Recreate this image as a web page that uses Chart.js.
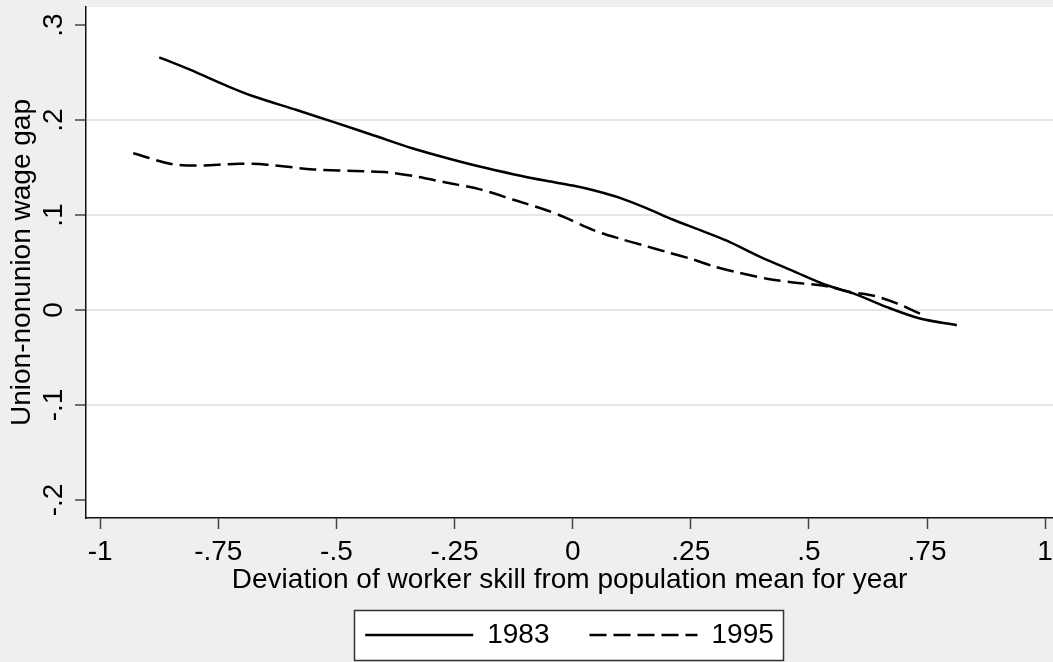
<!DOCTYPE html>
<html>
<head>
<meta charset="utf-8">
<script src="https://cdn.jsdelivr.net/npm/chart.js@4.4.0/dist/chart.umd.min.js"></script>
<style>
  html, body { margin: 0; padding: 0; background: #efefef; }
  #wrap { width: 1053px; height: 662px; position: relative; }
</style>
</head>
<body>
<div id="wrap"><canvas id="c"></canvas></div>
<script>
const seriesNames = ['1983', '1995'];

const x1983 = [-0.875, -0.81, -0.732, -0.676, -0.584, -0.507, -0.422, -0.338, -0.267, -0.197, -0.126, -0.056, 0.0, 0.044, 0.1, 0.157, 0.213, 0.27, 0.326, 0.397, 0.467, 0.538, 0.594, 0.665, 0.735, 0.813];
const y1983 = [0.266, 0.253, 0.236, 0.225, 0.2105, 0.198, 0.184, 0.170, 0.160, 0.151, 0.143, 0.136, 0.131, 0.126, 0.118, 0.107, 0.095, 0.084, 0.073, 0.056, 0.041, 0.026, 0.0175, 0.003, -0.009, -0.016];

const x1995 = [-0.93, -0.852, -0.803, -0.704, -0.647, -0.549, -0.443, -0.393, -0.337, -0.266, -0.196, -0.125, -0.055, -0.019, 0.044, 0.1, 0.15, 0.199, 0.256, 0.298, 0.354, 0.411, 0.467, 0.538, 0.587, 0.637, 0.686, 0.74];
const y1995 = [0.165, 0.154, 0.152, 0.154, 0.153, 0.148, 0.146, 0.145, 0.141, 0.134, 0.127, 0.116, 0.105, 0.098, 0.084, 0.075, 0.068, 0.061, 0.053, 0.046, 0.039, 0.033, 0.029, 0.025, 0.019, 0.015, 0.007, -0.005];

const xTickValues = [-1, -0.75, -0.5, -0.25, 0, 0.25, 0.5, 0.75, 1];
const xTickLabels = ['-1', '-.75', '-.5', '-.25', '0', '.25', '.5', '.75', '1'];
const yTickValues = [-0.2, -0.1, 0, 0.1, 0.2, 0.3];
const yTickLabels = ['-.2', '-.1', '0', '.1', '.2', '.3'];
const yNoGrid = [-0.2, 0.3];

const xTitle = 'Deviation of worker skill from population mean for year';
const yTitle = 'Union-nonunion wage gap';

const FONT = '"Liberation Sans", Arial, Helvetica, sans-serif';
const FS = 28;
const LEG_PAD = 40;

function pairs(xs, ys) { return xs.map((x, i) => ({ x: x, y: ys[i] })); }

function legendRect(chart) {
  const lg = chart.legend;
  if (!lg || !lg.legendHitBoxes || !lg.legendHitBoxes.length) return null;
  const hb = lg.legendHitBoxes;
  const l = hb[0].left - 11;
  const r = hb[hb.length - 1].left + hb[hb.length - 1].width + 9;
  const cy = lg.top + LEG_PAD + FS / 2;
  return { l: Math.round(l), t: Math.round(cy - 25), w: Math.round(r - l), h: 50 };
}

const bgPlugin = {
  id: 'bg',
  beforeDraw(chart) {
    const ctx = chart.ctx, a = chart.chartArea;
    ctx.save();
    ctx.fillStyle = '#efefef';
    ctx.fillRect(0, 0, chart.width, chart.height);
    ctx.fillStyle = '#ffffff';
    ctx.fillRect(a.left, a.top, a.right - a.left, a.bottom - a.top);
    const r = legendRect(chart);
    if (r) ctx.fillRect(r.l, r.t, r.w, r.h);
    ctx.restore();
  },
  afterDraw(chart) {
    const ctx = chart.ctx;
    const r = legendRect(chart);
    if (r) {
      ctx.save();
      ctx.strokeStyle = '#333333';
      ctx.lineWidth = 1.5;
      ctx.setLineDash([]);
      ctx.strokeRect(r.l + 0.5, r.t + 0.5, r.w, r.h);
      ctx.restore();
    }
  }
};

new Chart(document.getElementById('c'), {
  type: 'line',
  data: {
    datasets: [
      {
        label: seriesNames[0],
        data: pairs(x1983, y1983),
        borderColor: '#000000',
        backgroundColor: '#000000',
        borderWidth: 2.5,
        pointRadius: 0,
        tension: 0.3,
        fill: false
      },
      {
        label: seriesNames[1],
        data: pairs(x1995, y1995),
        borderColor: '#000000',
        backgroundColor: '#000000',
        borderWidth: 2.5,
        borderDash: [17, 7],
        pointRadius: 0,
        tension: 0.3,
        fill: false
      }
    ]
  },
  options: {
    responsive: true,
    maintainAspectRatio: false,
    animation: false,
    devicePixelRatio: 1,
    layout: { padding: { top: 7, right: 0, bottom: 3, left: 0 } },
    plugins: {
      tooltip: { enabled: false },
      legend: {
        position: 'bottom',
        fullSize: false,
        labels: {
          usePointStyle: true,
          pointStyle: 'line',
          pointStyleWidth: 108,
          padding: LEG_PAD,
          color: '#000000',
          font: { family: FONT, size: FS },
          generateLabels: chart => {
            const items = Chart.defaults.plugins.legend.labels.generateLabels(chart);
            items.forEach(it => {
              const ds = chart.data.datasets[it.datasetIndex];
              it.lineDash = ds.borderDash || [];
              it.lineWidth = ds.borderWidth;
              it.strokeStyle = ds.borderColor;
            });
            return items;
          }
        }
      }
    },
    scales: {
      x: {
        type: 'linear',
        min: -1.03,
        max: 1.0166,
        afterBuildTicks: s => { s.ticks = xTickValues.map(v => ({ value: v })); },
        afterFit: s => { s.height = 63; s.paddingLeft = 0; s.paddingRight = 0; },
        ticks: {
          callback: (v, i) => xTickLabels[i],
          autoSkip: false,
          maxRotation: 0,
          minRotation: 0,
          padding: 6,
          color: '#000000',
          font: { family: FONT, size: FS }
        },
        grid: {
          drawOnChartArea: false,
          drawTicks: true,
          tickLength: 11,
          tickColor: '#444444',
          tickWidth: 1.5
        },
        border: { display: true, color: '#111111', width: 1.5 },
        title: {
          display: true,
          text: xTitle,
          color: '#000000',
          font: { family: FONT, size: FS },
          padding: { top: 0, bottom: -16 }
        }
      },
      y: {
        type: 'linear',
        min: -0.219,
        max: 0.319,
        afterBuildTicks: s => { s.ticks = yTickValues.map(v => ({ value: v })); },
        afterFit: s => { s.width = 86; s.paddingTop = 0; s.paddingBottom = 0; },
        ticks: {
          callback: (v, i) => yTickLabels[i],
          autoSkip: false,
          minRotation: 90,
          maxRotation: 90,
          crossAlign: 'center',
          padding: 4,
          color: '#000000',
          font: { family: FONT, size: FS }
        },
        grid: {
          color: c => (c.tick && yNoGrid.some(v => Math.abs(v - c.tick.value) < 1e-9)) ? 'rgba(0,0,0,0)' : '#e6e6e6',
          lineWidth: 2,
          drawTicks: true,
          tickLength: 11,
          tickColor: '#444444',
          tickWidth: 1.5
        },
        border: { display: true, color: '#111111', width: 1.5 },
        title: {
          display: true,
          text: yTitle,
          color: '#000000',
          font: { family: FONT, size: FS },
          padding: { top: 5, bottom: 0 }
        }
      }
    }
  },
  plugins: [bgPlugin]
});
</script>
</body>
</html>
